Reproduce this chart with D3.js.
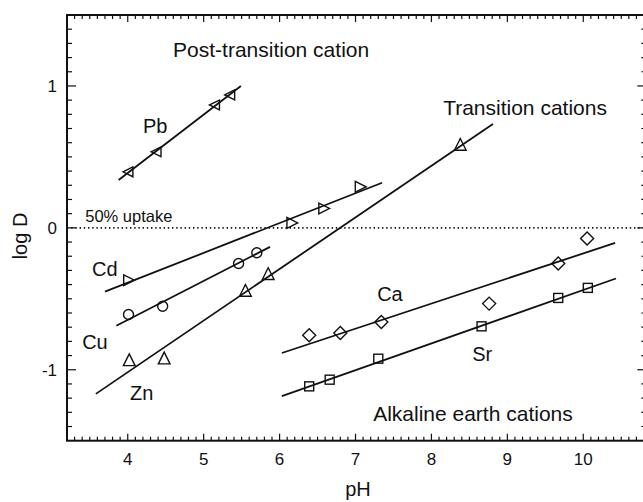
<!DOCTYPE html>
<html>
<head>
<meta charset="utf-8">
<script src="https://cdn.jsdelivr.net/npm/d3@7"></script>
<style>
  html, body { margin: 0; padding: 0; background: #fff; overflow: hidden; }
  svg { display: block; font-family: "Liberation Sans", Arial, sans-serif; }
</style>
</head>
<body>
<div id="viz"></div>
<script>
// values: pH vs log D
const pbPH = [4.01, 4.38, 5.15, 5.35];
const pbLogD = [0.395, 0.536, 0.866, 0.937];
const cdPH = [4.01, 6.16, 6.58, 7.06];
const cdLogD = [-0.369, 0.035, 0.137, 0.289];
const cuPH = [4.01, 4.46, 5.46, 5.70];
const cuLogD = [-0.611, -0.553, -0.251, -0.176];
const znPH = [4.02, 4.48, 5.55, 5.85, 8.38];
const znLogD = [-0.934, -0.922, -0.445, -0.327, 0.584];
const caPH = [6.39, 6.80, 7.34, 8.76, 9.67, 10.05];
const caLogD = [-0.757, -0.741, -0.663, -0.534, -0.251, -0.075];
const srPH = [6.39, 6.66, 7.30, 8.66, 9.67, 10.06];
const srLogD = [-1.117, -1.07, -0.922, -0.694, -0.494, -0.423];

// fitted lines, endpoints as drawn
const fitPH = { Pb: [3.88, 5.49], Cd: [3.70, 7.35], Cu: [3.85, 5.875], Zn: [3.58, 8.81], Ca: [6.03, 10.42], Sr: [6.03, 10.43] };
const fitLogD = { Pb: [0.337, 1.0], Cd: [-0.45, 0.318], Cu: [-0.69, -0.134], Zn: [-1.17, 0.732], Ca: [-0.882, -0.106], Sr: [-1.186, -0.357] };

const xTickLabels = [4, 5, 6, 7, 8, 9, 10];
const yTickLabels = [-1, 0, 1];

const WIDTH = 643, HEIGHT = 502;
const svg = d3.select("#viz").append("svg")
  .attr("width", WIDTH)
  .attr("height", HEIGHT);

// right frame edge sits just outside the picture, as in the original crop
const X0 = 3.2, X1 = 10.83;
const x = d3.scaleLinear().domain([X0, X1]).range([67, 646.3]);
const y = d3.scaleLinear().domain([-1.5, 1.5]).range([440.7, 15]);
const ink = "#111";

// zero line
svg.append("line")
  .attr("x1", x(X0)).attr("x2", x(X1))
  .attr("y1", y(0)).attr("y2", y(0))
  .attr("stroke", ink)
  .attr("stroke-width", 1.6)
  .attr("stroke-dasharray", "1.4 2.8");

// ticks on all four sides, pointing in
const xMinor = d3.range(33, 109).map(d => d / 10);
const yMinor = d3.range(-14, 15).map(d => d / 10);
const isMajor = v => Math.abs(v - Math.round(v)) < 1e-6;
const tickG = svg.append("g").attr("stroke", ink).attr("stroke-width", 1.2);
xMinor.forEach(v => {
  const len = isMajor(v) ? 7 : 4;
  tickG.append("line").attr("x1", x(v)).attr("x2", x(v)).attr("y1", y(-1.5)).attr("y2", y(-1.5) - len);
  tickG.append("line").attr("x1", x(v)).attr("x2", x(v)).attr("y1", y(1.5)).attr("y2", y(1.5) + len);
});
yMinor.forEach(v => {
  const len = isMajor(v) ? 9 : 5;
  tickG.append("line").attr("x1", x(X0)).attr("x2", x(X0) + len).attr("y1", y(v)).attr("y2", y(v));
  tickG.append("line").attr("x1", x(X1)).attr("x2", x(X1) - len).attr("y1", y(v)).attr("y2", y(v));
});

// frame
svg.append("rect")
  .attr("x", x(X0)).attr("y", y(1.5))
  .attr("width", x(X1) - x(X0)).attr("height", y(-1.5) - y(1.5))
  .attr("fill", "none")
  .attr("stroke", ink)
  .attr("stroke-width", 2);

// tick labels
svg.append("g").selectAll("text")
  .data(xTickLabels)
  .join("text")
  .attr("x", d => x(d))
  .attr("y", 465)
  .attr("text-anchor", "middle")
  .style("font-size", "17px")
  .attr("fill", ink)
  .text(d => d);

svg.append("g").selectAll("text")
  .data(yTickLabels)
  .join("text")
  .attr("x", 57)
  .attr("y", d => y(d))
  .attr("dy", "0.35em")
  .attr("text-anchor", "end")
  .style("font-size", "17px")
  .attr("fill", ink)
  .text(d => d);

// axis titles
svg.append("text")
  .attr("x", 358).attr("y", 496)
  .attr("text-anchor", "middle")
  .style("font-size", "20px")
  .attr("fill", ink)
  .text("pH");

svg.append("text")
  .attr("transform", "translate(27,236) rotate(-90)")
  .attr("text-anchor", "middle")
  .style("font-size", "20px")
  .attr("fill", ink)
  .text("log D");

// fit lines
const line = d3.line().x(d => x(d[0])).y(d => y(d[1]));
Object.keys(fitPH).forEach(k => {
  svg.append("path")
    .datum(d3.zip(fitPH[k], fitLogD[k]))
    .attr("d", line)
    .attr("fill", "none")
    .attr("stroke", ink)
    .attr("stroke-width", 1.8);
});

// markers
const triPath = (r) => `M${-r},0 L${r * 0.8},${-r * 0.9} L${r * 0.8},${r * 0.9} Z`;
const series = [
  { ph: pbPH, ld: pbLogD, shape: "triLeft", r: 5.5 },
  { ph: cdPH, ld: cdLogD, shape: "triRight", r: 6 },
  { ph: cuPH, ld: cuLogD, shape: "circle", r: 5 },
  { ph: znPH, ld: znLogD, shape: "triUp", r: 6.5 },
  { ph: caPH, ld: caLogD, shape: "diamond", r: 6.5 },
  { ph: srPH, ld: srLogD, shape: "square", r: 4.5 }
];
series.forEach(s => {
  const pts = d3.zip(s.ph, s.ld);
  const g = svg.append("g")
    .attr("fill", "none")
    .attr("stroke", ink)
    .attr("stroke-width", 1.4);
  pts.forEach(p => {
    const cx = x(p[0]), cy = y(p[1]), r = s.r;
    if (s.shape === "circle") {
      g.append("circle").attr("cx", cx).attr("cy", cy).attr("r", r);
    } else if (s.shape === "square") {
      g.append("rect").attr("x", cx - r).attr("y", cy - r).attr("width", 2 * r).attr("height", 2 * r);
    } else if (s.shape === "diamond") {
      g.append("path").attr("d", `M${cx},${cy - r} L${cx + r},${cy} L${cx},${cy + r} L${cx - r},${cy} Z`);
    } else {
      const rot = s.shape === "triLeft" ? 0 : s.shape === "triRight" ? 180 : 90;
      g.append("path")
        .attr("transform", `translate(${cx},${cy}) rotate(${rot})`)
        .attr("d", triPath(r));
    }
  });
});

// annotations
const notes = [
  { t: "Post-transition cation", ph: 4.597, ld: 1.207, size: 21 },
  { t: "Transition cations", ph: 8.154, ld: 0.795, size: 21 },
  { t: "Alkaline earth cations", ph: 7.232, ld: -1.364, size: 21 },
  { t: "Pb", ph: 4.20, ld: 0.666, size: 20 },
  { t: "Cd", ph: 3.53, ld: -0.341, size: 20 },
  { t: "Cu", ph: 3.40, ld: -0.856, size: 20 },
  { t: "Zn", ph: 4.03, ld: -1.215, size: 20 },
  { t: "Ca", ph: 7.285, ld: -0.517, size: 20 },
  { t: "Sr", ph: 8.536, ld: -0.939, size: 20 },
  { t: "50% uptake", ph: 3.44, ld: 0.04, size: 16.5 }
];
svg.append("g").selectAll("text")
  .data(notes)
  .join("text")
  .attr("x", d => x(d.ph))
  .attr("y", d => y(d.ld))
  .style("font-size", d => d.size + "px")
  .attr("fill", ink)
  .text(d => d.t);
</script>
</body>
</html>
